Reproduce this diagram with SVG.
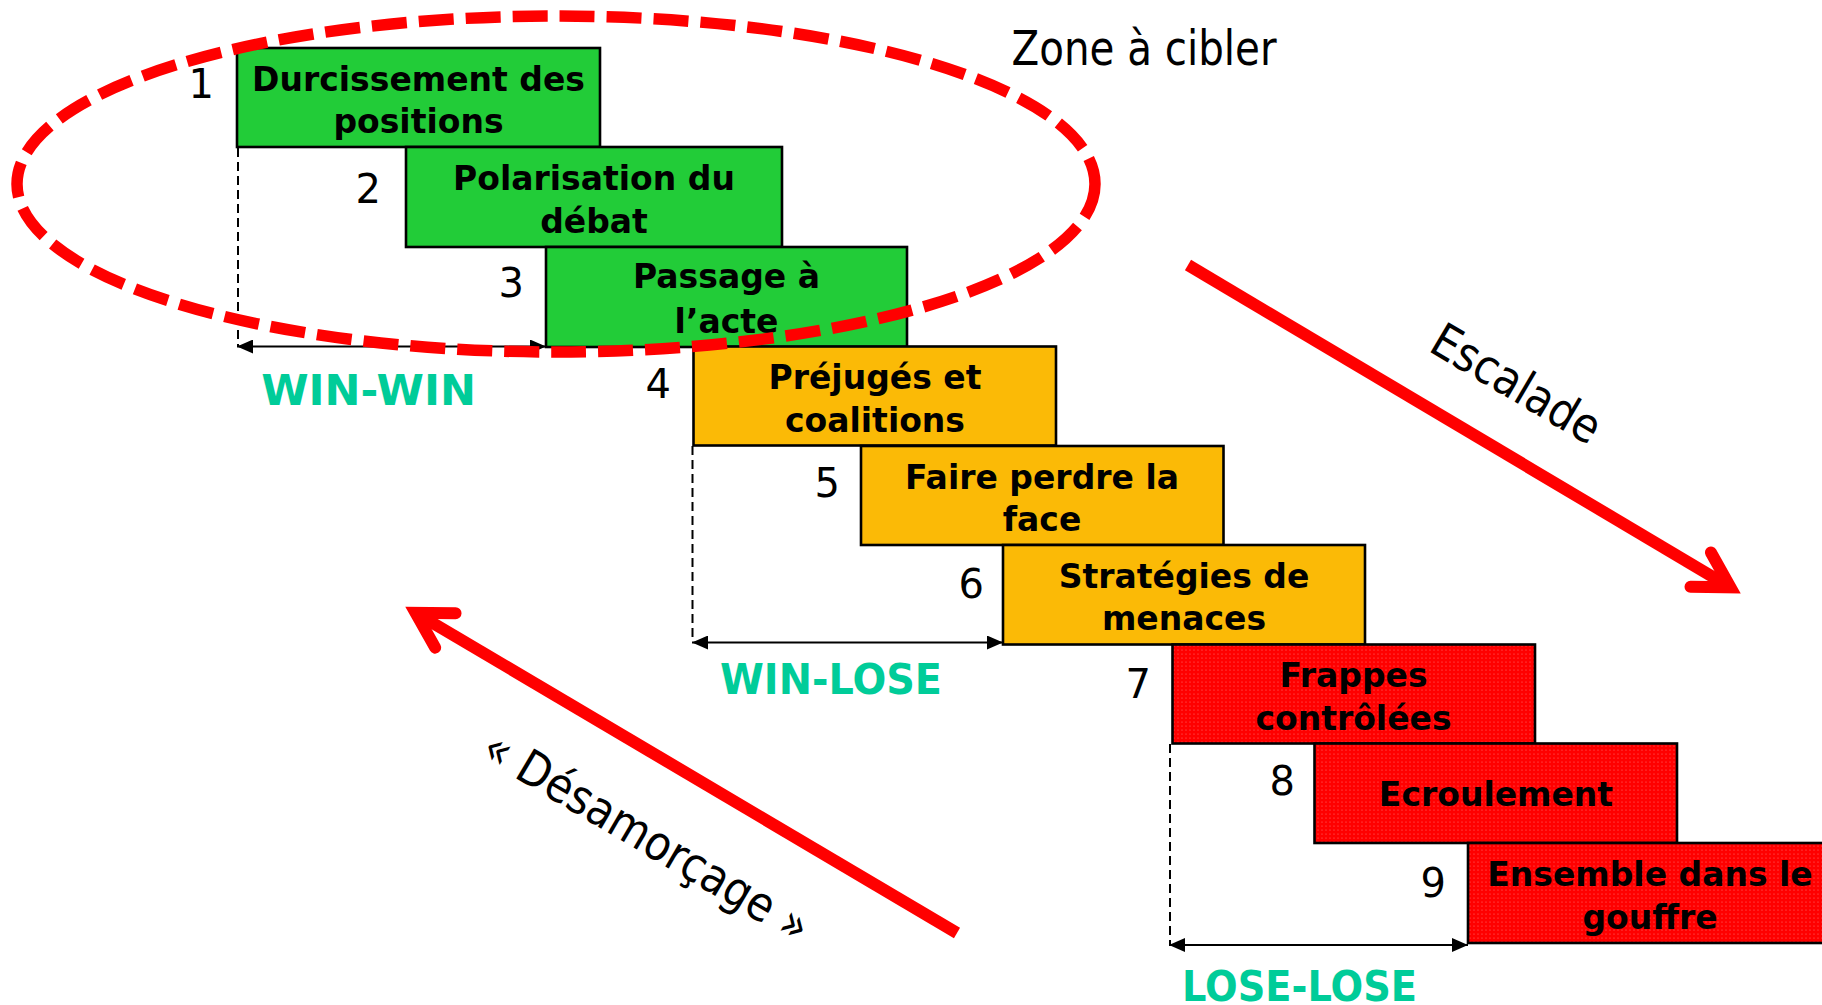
<svg xmlns="http://www.w3.org/2000/svg" width="1822" height="1005" viewBox="0 0 1822 1005">
<defs>
<style>
.box{stroke:#000;stroke-width:2.6}
.g{fill:#22CC38}
.o{fill:#FBBA06}
.r{fill:url(#dots)}
.bt{font-family:"DejaVu Sans",Verdana,sans-serif;font-weight:bold;font-size:33px;fill:#000;text-anchor:middle}
.num{font-family:"DejaVu Sans",Verdana,sans-serif;font-size:40px;fill:#000;text-anchor:end}
.lbl{font-family:"DejaVu Sans",Verdana,sans-serif;font-size:48px;fill:#000}
.res{font-family:"DejaVu Sans",Verdana,sans-serif;font-weight:bold;font-size:43px;fill:#00CC99;text-anchor:middle}
.dash{stroke:#000;stroke-width:2;stroke-dasharray:9 5;fill:none}
.dim{stroke:#000;stroke-width:2;fill:none;marker-start:url(#ah);marker-end:url(#ah)}
.big{stroke:#FF0000;stroke-width:12;fill:none}
.head{stroke:#FF0000;stroke-width:12;fill:none;stroke-linecap:round;stroke-linejoin:miter;stroke-miterlimit:10}
</style>
<pattern id="dots" width="4" height="4" patternUnits="userSpaceOnUse">
<rect width="4" height="4" fill="#FF0000"/>
<circle cx="2" cy="2" r="0.6" fill="#FFFFFF" fill-opacity="0.45"/>
</pattern>
<marker id="ah" viewBox="0 0 16 14" refX="16" refY="7" markerWidth="16" markerHeight="14" markerUnits="userSpaceOnUse" orient="auto-start-reverse">
<path d="M0,0 L16,7 L0,14 z" fill="#000"/>
</marker>
</defs>
<rect width="1822" height="1005" fill="#FFFFFF"/>

<g id="connectors">
<line class="dash" x1="238" y1="148" x2="238" y2="346"/>
<line class="dash" x1="692.5" y1="446" x2="692.5" y2="642"/>
<line class="dash" x1="1170" y1="744" x2="1170" y2="945"/>
<line class="dim" x1="237" y1="346.5" x2="546" y2="346.5"/>
<line class="dim" x1="692" y1="642.5" x2="1003" y2="642.5"/>
<line class="dim" x1="1169" y1="945" x2="1468" y2="945"/>
<g id="arrow-escalade" transform="translate(1188,265) rotate(30.72)">
<path class="big" d="M0,0 H631"/>
<path class="head" d="M596.4,-20 L631,0 L596.4,20"/>
</g>
<g id="arrow-desamorcage" transform="translate(957,933) rotate(210.6)">
<path class="big" d="M0,0 H629"/>
<path class="head" d="M594.4,-20 L629,0 L594.4,20"/>
</g>
</g>

<g id="node1">
<rect class="box g" x="237" y="48" width="363" height="99"/>
<text class="bt" x="418.5" y="90.5">Durcissement des</text>
<text class="bt" x="418.5" y="133">positions</text>
<text class="num" x="214" y="98">1</text>
</g>
<g id="node2">
<rect class="box g" x="406" y="147" width="376" height="100"/>
<text class="bt" x="594" y="190">Polarisation du</text>
<text class="bt" x="594" y="233">débat</text>
<text class="num" x="381" y="203">2</text>
</g>
<g id="node3">
<rect class="box g" x="546" y="247" width="361" height="100"/>
<text class="bt" x="726.5" y="288">Passage à</text>
<text class="bt" x="726.5" y="333">l’acte</text>
<text class="num" x="524" y="297">3</text>
</g>
<g id="node4">
<rect class="box o" x="693.5" y="346.5" width="362.5" height="99"/>
<text class="bt" x="875" y="389">Préjugés et</text>
<text class="bt" x="875" y="432">coalitions</text>
<text class="num" x="671" y="398">4</text>
</g>
<g id="node5">
<rect class="box o" x="861" y="446" width="362.5" height="99"/>
<text class="bt" x="1042" y="488.5">Faire perdre la</text>
<text class="bt" x="1042" y="531">face</text>
<text class="num" x="840" y="497">5</text>
</g>
<g id="node6">
<rect class="box o" x="1003" y="545" width="362" height="99.5"/>
<text class="bt" x="1184" y="587.5">Stratégies de</text>
<text class="bt" x="1184" y="630">menaces</text>
<text class="num" x="984" y="598">6</text>
</g>
<g id="node7">
<rect class="box r" x="1172.5" y="644.5" width="362.5" height="99"/>
<text class="bt" x="1353.5" y="687">Frappes</text>
<text class="bt" x="1353.5" y="730">contrôlées</text>
<text class="num" x="1151" y="698">7</text>
</g>
<g id="node8">
<rect class="box r" x="1314.5" y="743.5" width="362.5" height="99.5"/>
<text class="bt" x="1496" y="806">Ecroulement</text>
<text class="num" x="1295" y="795">8</text>
</g>
<g id="node9">
<rect class="box r" x="1468" y="843" width="364" height="100"/>
<text class="bt" x="1650" y="886">Ensemble dans le</text>
<text class="bt" x="1650" y="929">gouffre</text>
<text class="num" x="1446" y="897">9</text>
</g>

<text class="res" x="368.5" y="405">WIN-WIN</text>
<text class="res" x="831" y="693.5" textLength="222" lengthAdjust="spacingAndGlyphs">WIN-LOSE</text>
<text class="res" x="1299.5" y="1001" textLength="235" lengthAdjust="spacingAndGlyphs">LOSE-LOSE</text>

<text class="lbl" x="1011.5" y="65" textLength="265" lengthAdjust="spacingAndGlyphs">Zone à cibler</text>
<text class="lbl" text-anchor="middle" transform="translate(1508,398) rotate(30.5)" x="0" y="0" textLength="188" lengthAdjust="spacingAndGlyphs">Escalade</text>
<text class="lbl" text-anchor="middle" transform="translate(638.4,850.6) rotate(30.5)" x="0" y="0" textLength="370" lengthAdjust="spacingAndGlyphs">« Désamorçage »</text>

<g id="zone">
<ellipse cx="556" cy="184" rx="539" ry="168" fill="none" stroke="#FF0000" stroke-width="11.5" stroke-dasharray="35 12"/>
</g>
</svg>
